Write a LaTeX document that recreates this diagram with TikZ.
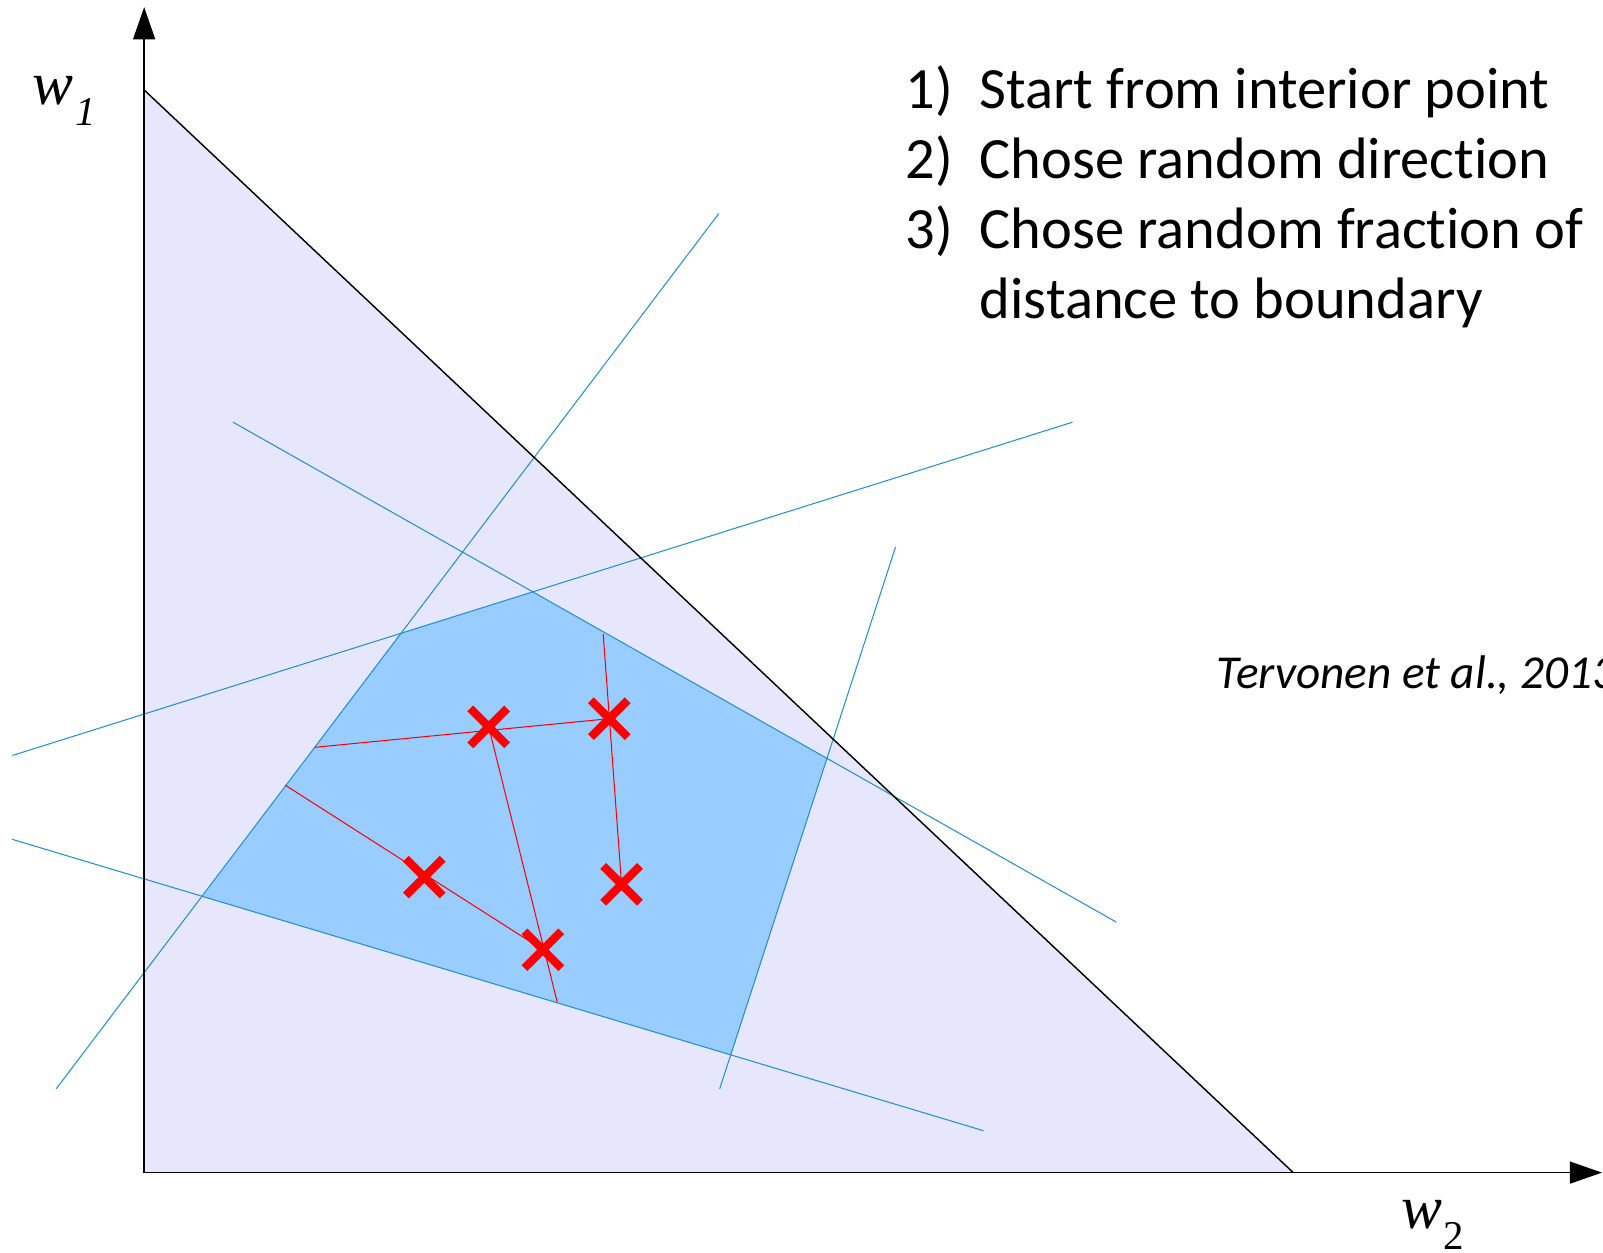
\documentclass[tikz,border=0pt]{standalone}
\usepackage{fontspec}
\setmainfont{Carlito}[Ligatures=NoCommon]
\newfontfamily\timesfont{Liberation Serif}
\usetikzlibrary{arrows.meta}
\definecolor{lav}{RGB}{230,230,252}
\definecolor{feas}{RGB}{153,204,255}
\definecolor{cons}{RGB}{31,143,214}
\tikzset{
  axisline/.style={line width=0.8pt, -{Triangle[length=15.75pt,width=10.75pt]}},
  consline/.style={cons, line width=0.5pt},
  walkline/.style={red, line width=0.5pt},
  xmark/.pic={\draw[red, line width=4pt] (-18,-18)--(18,18) (-18,18)--(18,-18);},
  listtext/.style={anchor=base west, inner sep=0pt, font=\fontsize{28.6}{34}\selectfont},
  citetext/.style={anchor=base west, inner sep=0pt, font=\itshape\fontsize{23.1}{28}\selectfont},
  wlabel/.style={anchor=base west, inner sep=0pt, font=\timesfont\itshape\fontsize{30}{36}\selectfont},
  wsub/.style={anchor=base west, inner sep=0pt, font=\timesfont\fontsize{20}{24}\selectfont},
}
\begin{document}
\begin{tikzpicture}[x=0.5pt,y=-0.5pt]
\useasboundingbox (0,0) rectangle (1568,1225);
% corners
\coordinate (O) at (141,1147);
\coordinate (T) at (141,88);
\coordinate (R) at (1265,1147);
\coordinate (Ytip) at (141,7);
\coordinate (Xtip) at (1567,1147);
% simplex
\fill[lav] (T) -- (O) -- (R) -- cycle;
% feasible polygon
\coordinate (P1) at (392,619);
\coordinate (P2) at (521,579);
\coordinate (P3) at (809,742);
\coordinate (P4) at (715,1032);
\coordinate (P5) at (198,877);
\fill[feas] (P1) -- (P2) -- (P3) -- (P4) -- (P5) -- cycle;
% constraint lines
\coordinate (L1a) at (55,1065);  \coordinate (L1b) at (703,209);
\coordinate (L2a) at (228,413);  \coordinate (L2b) at (1092,902);
\coordinate (L3a) at (12,739);   \coordinate (L3b) at (1049,413);
\coordinate (L4a) at (12,821);   \coordinate (L4b) at (962,1106);
\coordinate (L5a) at (876,535);  \coordinate (L5b) at (704,1065);
\draw[consline] (L1a) -- (L1b);
\draw[consline] (L2a) -- (L2b);
\draw[consline] (L3a) -- (L3b);
\draw[consline] (L4a) -- (L4b);
\draw[consline] (L5a) -- (L5b);
% hypotenuse
\draw[line width=0.7pt] (T) -- (R);
% axes
\draw[axisline] (O) -- (Ytip);
\draw[axisline] (O) -- (Xtip);
% walk
\coordinate (C1) at (415,858);
\coordinate (C2) at (531,929);
\coordinate (C3) at (478,711);
\coordinate (C4) at (596,703);
\coordinate (C5) at (608,865);
\coordinate (E1) at (279,768);
\coordinate (E2) at (545,980);
\coordinate (E3) at (308,731);
\coordinate (E4) at (590,620);
\draw[walkline] (E1) -- (C2);
\draw[walkline] (E2) -- (C3);
\draw[walkline] (E3) -- (C4);
\draw[walkline] (E4) -- (C5);
\pic (x1) at (C1) {xmark};
\pic (x2) at (C2) {xmark};
\pic (x3) at (C3) {xmark};
\pic (x4) at (C4) {xmark};
\pic (x5) at (C5) {xmark};
% axis labels
\node[wlabel] (w1) at (31,102.7) {w};
\node[wlabel, font=\timesfont\itshape\fontsize{20}{24}\selectfont] (w1s) at (73,123) {1};
\node[wlabel] (w2) at (1370,1202) {w};
\node[wsub] (w2s) at (1412,1222) {2};
% list
\node[listtext] (n1) at (885.5,106) {1)};
\node[listtext] (t1) at (958,106) {Start from interior point};
\node[listtext] (n2) at (885.5,174.5) {2)};
\node[listtext] (t2) at (958,174.5) {Chose random direction};
\node[listtext] (n3) at (885.5,243) {3)};
\node[listtext] (t3) at (958,243) {Chose random fraction of};
\node[listtext] (t4) at (958,311.5) {distance to boundary};
% citation
\node[citetext] (cite) at (1190,673) {Tervonen et al., 2013};
\end{tikzpicture}
\end{document}
